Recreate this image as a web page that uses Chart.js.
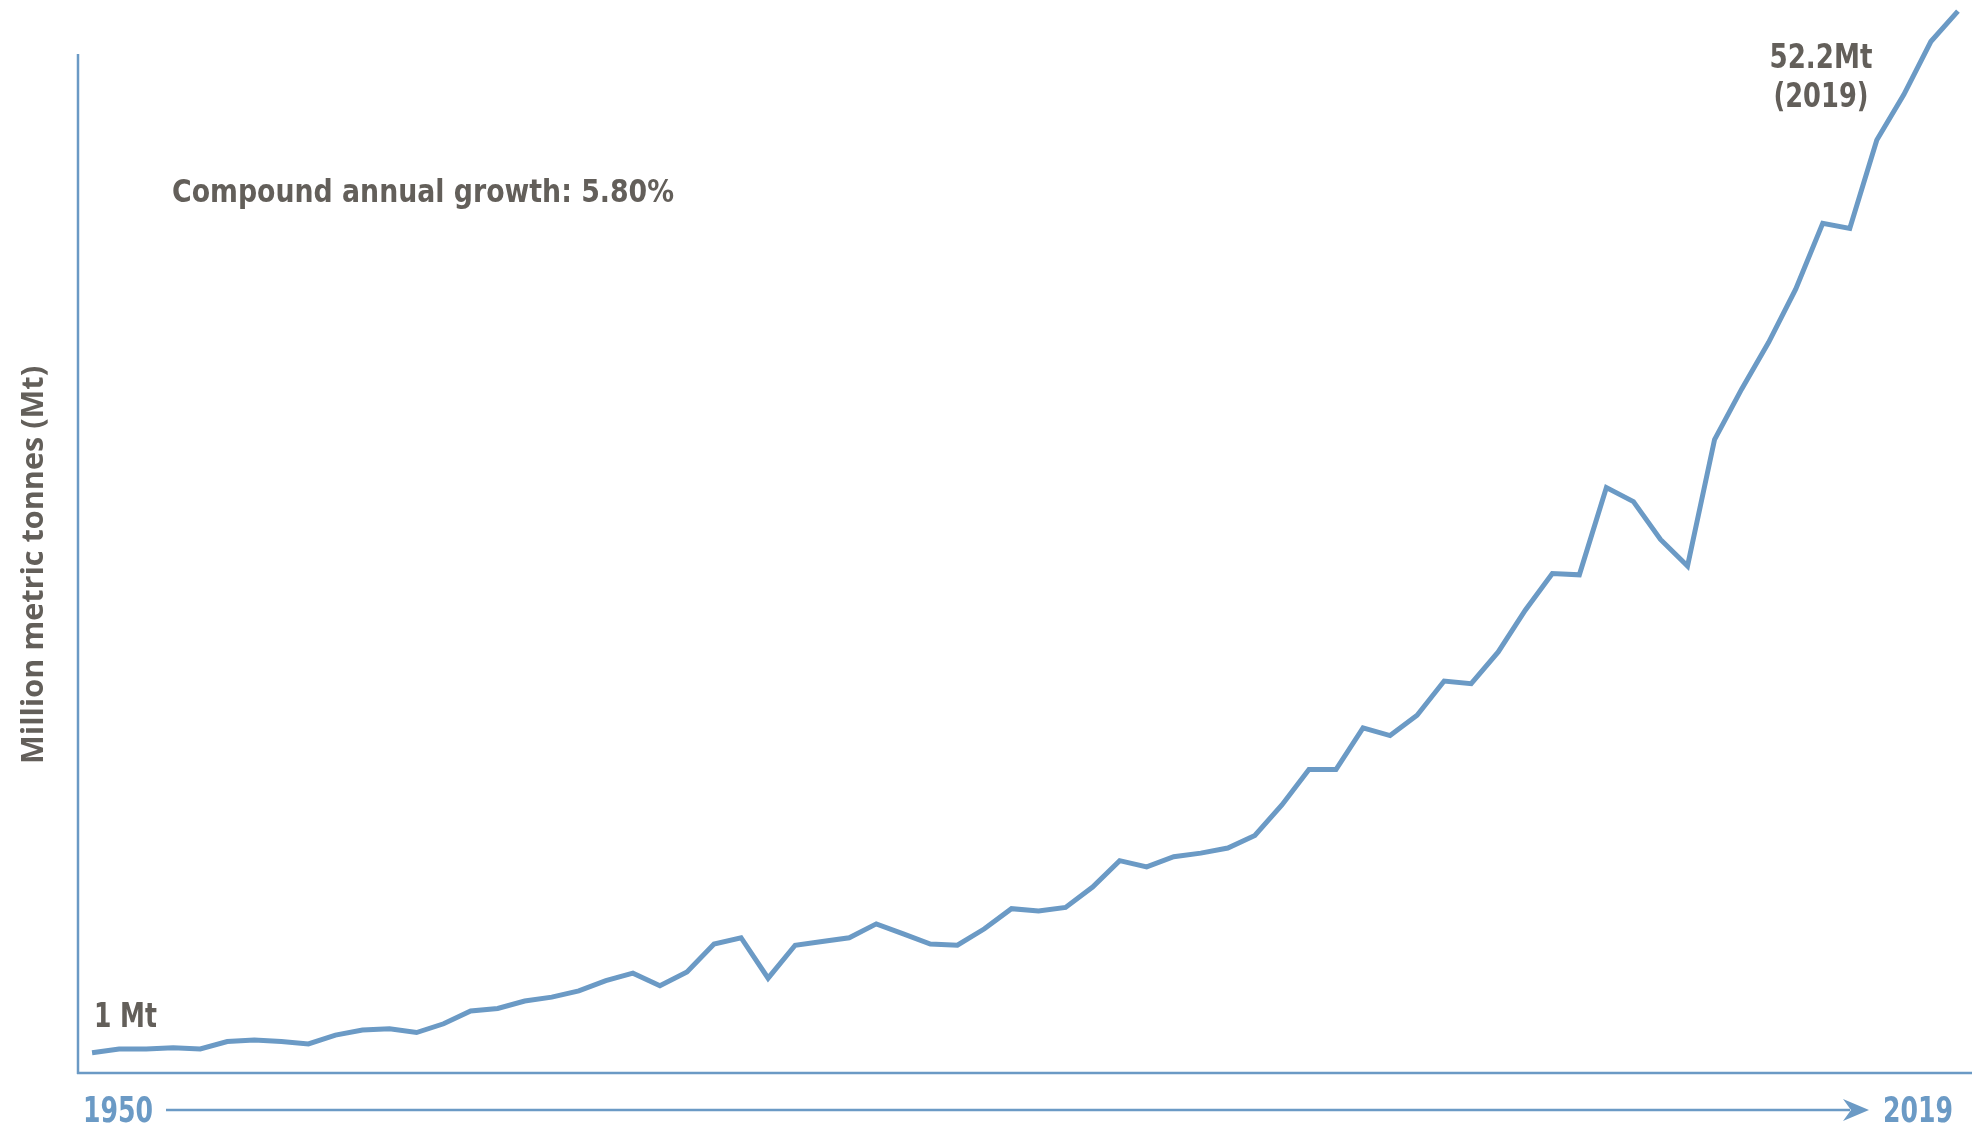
<!DOCTYPE html>
<html>
<head>
<meta charset="utf-8">
<style>
  html, body { margin: 0; padding: 0; background: #ffffff; }
  #wrap { width: 1982px; height: 1128px; position: relative; }
  canvas { display: block; }
</style>
<script src="https://cdn.jsdelivr.net/npm/chart.js@4/dist/chart.umd.min.js"></script>
</head>
<body>
<div id="wrap"><canvas id="c" width="1982" height="1128"></canvas></div>
<script>
// ---- Data ----
const years = [1950,1951,1952,1953,1954,1955,1956,1957,1958,1959,
               1960,1961,1962,1963,1964,1965,1966,1967,1968,1969,
               1970,1971,1972,1973,1974,1975,1976,1977,1978,1979,
               1980,1981,1982,1983,1984,1985,1986,1987,1988,1989,
               1990,1991,1992,1993,1994,1995,1996,1997,1998,1999,
               2000,2001,2002,2003,2004,2005,2006,2007,2008,2009,
               2010,2011,2012,2013,2014,2015,2016,2017,2018,2019];
const productionMt = [1.0,1.18,1.18,1.24,1.18,1.55,1.62,1.55,1.43,1.86,
                      2.11,2.18,1.99,2.42,3.05,3.17,3.54,3.73,4.04,4.54,
                      4.91,4.29,4.97,6.34,6.65,4.66,6.28,6.46,6.65,7.33,
                      6.84,6.34,6.28,7.09,8.08,7.96,8.14,9.14,10.44,10.13,
                      10.63,10.81,11.06,11.68,13.18,14.92,14.92,16.97,16.59,17.59,
                      19.27,19.14,20.70,22.75,24.55,24.49,28.78,28.09,26.23,24.92,
                      31.14,33.62,35.92,38.53,41.77,41.52,45.87,48.10,50.71,52.2];
const startLabel = "1950";
const endLabel = "2019";
const startValueLabel = "1 Mt";
const endValueLabel = ["52.2Mt", "(2019)"];
const growthLabel = "Compound annual growth: 5.80%";
const yAxisTitle = "Million metric tonnes (Mt)";

// ---- Styles ----
const BLUE = "#6b9ac5";
const GRAY = "#635f5a";
const DIN = "'DejaVu Sans Condensed', 'DejaVu Sans', sans-serif";
const HUM = "'Open Sans', 'Noto Sans', sans-serif";

function fitText(ctx, text, x, y, targetW, align) {
  const w = ctx.measureText(text).width;
  const s = targetW / w;
  ctx.save();
  ctx.textAlign = "left";
  let left = x;
  if (align === "center") left = x - targetW / 2;
  ctx.translate(left, y);
  ctx.scale(s, 1);
  ctx.fillText(text, 0, 0);
  ctx.restore();
}

const decor = {
  id: "decor",
  afterDraw(chart) {
    const ctx = chart.ctx;
    const a = chart.chartArea;
    const ys = chart.scales.y;
    ctx.save();
    // axes
    ctx.strokeStyle = BLUE;
    ctx.lineWidth = 2.5;
    ctx.lineCap = "butt";
    ctx.beginPath();
    ctx.moveTo(a.left, ys.getPixelForValue(50.1));
    ctx.lineTo(a.left, a.bottom + 1);
    ctx.moveTo(a.left - 1, a.bottom);
    ctx.lineTo(a.right, a.bottom);
    ctx.stroke();

    // timeline arrow
    const ay = 1110;
    ctx.lineWidth = 2.5;
    ctx.beginPath();
    ctx.moveTo(166, ay);
    ctx.lineTo(1850, ay);
    ctx.stroke();
    ctx.fillStyle = BLUE;
    ctx.beginPath();
    ctx.moveTo(1869, ay);
    ctx.lineTo(1843, ay - 11);
    ctx.lineTo(1851, ay);
    ctx.lineTo(1843, ay + 11);
    ctx.closePath();
    ctx.fill();

    ctx.textBaseline = "alphabetic";
    // year labels
    ctx.fillStyle = BLUE;
    ctx.font = "bold 35px " + DIN;
    fitText(ctx, startLabel, 83, 1122, 70, "left");
    fitText(ctx, endLabel, 1883, 1122, 70, "left");

    // annotations
    ctx.fillStyle = GRAY;
    ctx.font = "bold 33px " + DIN;
    fitText(ctx, startValueLabel, 94, 1027, 63, "left");
    fitText(ctx, endValueLabel[0], 1821, 68, 103, "center");
    fitText(ctx, endValueLabel[1], 1821, 107, 95, "center");
    ctx.font = "bold 32px " + DIN;
    fitText(ctx, growthLabel, 172, 202, 502, "left");

    // y-axis title
    ctx.font = "bold 31px " + HUM;
    ctx.save();
    ctx.translate(43, 565);
    ctx.rotate(-Math.PI / 2);
    fitText(ctx, yAxisTitle, 0, 0, 398, "center");
    ctx.restore();

    ctx.restore();
  }
};

new Chart(document.getElementById("c"), {
  type: "line",
  data: {
    datasets: [{
      data: years.map((yr, i) => ({ x: yr, y: productionMt[i] })),
      borderColor: BLUE,
      borderWidth: 5,
      pointRadius: 0,
      tension: 0,
      fill: false,
      borderJoinStyle: "miter",
      clip: false
    }]
  },
  options: {
    responsive: false,
    animation: false,
    devicePixelRatio: 1,
    layout: { padding: { left: 78, right: 10, top: 0, bottom: 55 } },
    scales: {
      x: { type: "linear", min: 1949.48, max: 2019.52, display: false },
      y: { min: 0, max: 52.75, display: false }
    },
    plugins: { legend: { display: false }, tooltip: { enabled: false } }
  },
  plugins: [decor]
});
</script>
</body>
</html>
